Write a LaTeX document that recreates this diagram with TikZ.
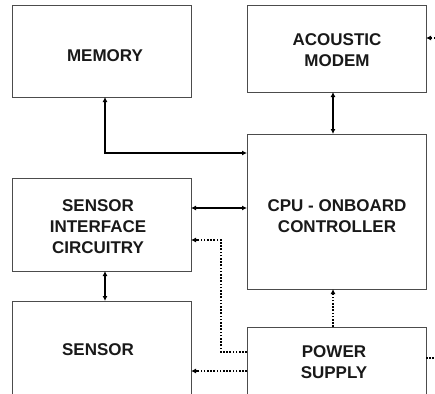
\documentclass[tikz,border=0pt]{standalone}
\usepackage{fontspec}
\setmainfont{Liberation Sans}
\usetikzlibrary{arrows.meta}
\begin{document}
\begin{tikzpicture}[x=1pt,y=-1pt,
  blockbox/.style={draw=black!70,line width=0.9pt,rectangle,inner sep=0pt,outer sep=0pt,anchor=north west},
  lbl/.style={font=\fontsize{17}{21}\selectfont\bfseries,align=center,inner sep=0pt,text=black!90},
  solidarr/.style={line width=1.5pt,{Latex[length=5pt,width=5pt]}-{Latex[length=5pt,width=5pt]}},
  dotarr/.style={line width=1.6pt,dash pattern=on 1.6pt off 1.6pt,-{Latex[length=5pt,width=5pt]}},
  dotline/.style={line width=1.6pt,dash pattern=on 1.6pt off 1.6pt}]
\useasboundingbox (0,0) rectangle (435,393);
\clip (0,0) rectangle (435,393);
\fill[white] (0,0) rectangle (435,393);
% boxes
\node[blockbox,minimum width=179pt,minimum height=92pt] (mem) at (12,5) {};
\node[blockbox,minimum width=179pt,minimum height=87pt] (modem) at (247,5) {};
\node[blockbox,minimum width=179pt,minimum height=155pt] (cpu) at (247,134) {};
\node[blockbox,minimum width=179pt,minimum height=93pt] (sic) at (12,178) {};
\node[blockbox,minimum width=179pt,minimum height=110pt] (sensor) at (12,301) {};
\node[blockbox,minimum width=179pt,minimum height=90pt] (ps) at (247,327) {};
% labels
\node[lbl] (memt) at (105,56) {MEMORY};
\node[lbl] (modemt) at (337,50) {ACOUSTIC\\MODEM};
\node[lbl] (cput) at (337,216.5) {CPU - ONBOARD\\CONTROLLER};
\node[lbl] (sict) at (98,227) {SENSOR\\INTERFACE\\CIRCUITRY};
\node[lbl] (sensort) at (98,350) {SENSOR};
\node[lbl] (pst) at (334,362) {POWER\\SUPPLY};
% solid connectors
\draw[solidarr] ([xshift=3.5pt]mem.south) |- ([yshift=-19pt]cpu.north west);
\draw[solidarr] ([xshift=-3.5pt]modem.south) -- ([xshift=-3.5pt]cpu.north);
\draw[solidarr] ([yshift=-30pt]sic.north east) -- ([yshift=-30pt]sic.north east -| cpu.west);
\draw[solidarr] ([xshift=3.5pt]sic.south) -- ([xshift=3.5pt]sensor.north);
% dotted connectors
\draw[dotarr] ([xshift=-3.5pt]ps.north) -- ([xshift=-3.5pt]cpu.south);
\draw[dotarr] ([yshift=-25pt]ps.north west) -- ++(-26pt,0) |- ([yshift=-62pt]sic.north east);
\draw[dotarr] ([yshift=-44pt]ps.north west) -- ([yshift=-44pt]ps.north west -| sensor.east);
\coordinate (psout) at (442,358);
\draw[dotline] (psout -| ps.east) -- (psout);
\coordinate (modemin) at (442,38);
\draw[dotarr] (modemin) -- (modemin -| modem.east);
\end{tikzpicture}
\end{document}
